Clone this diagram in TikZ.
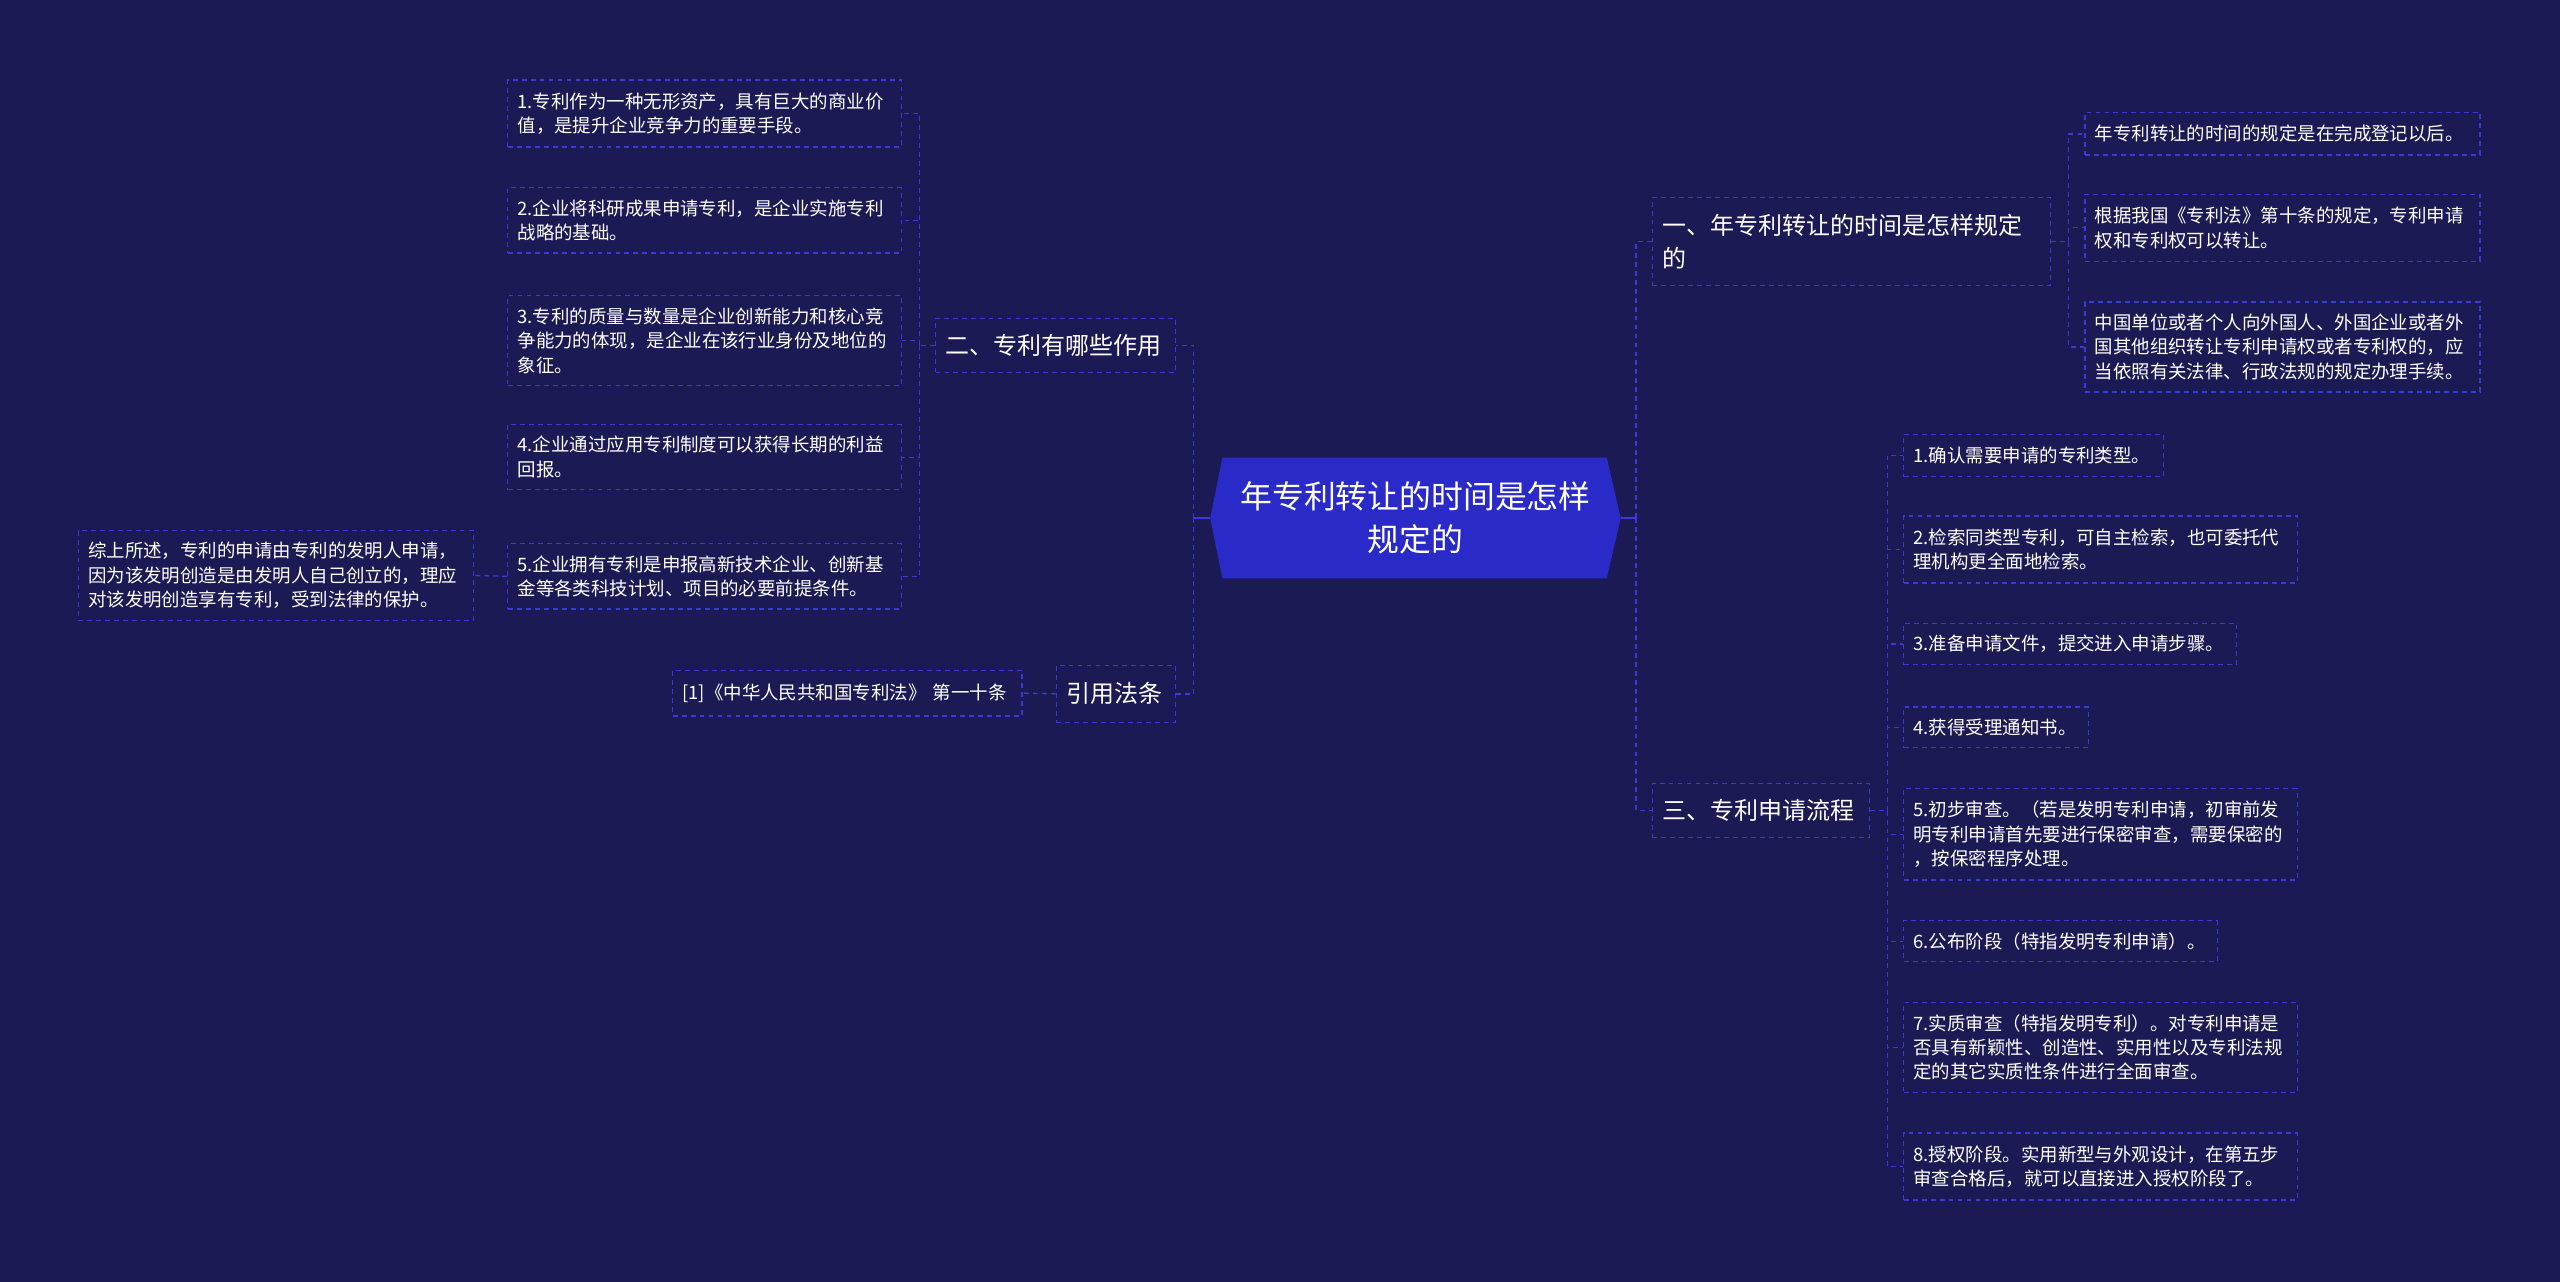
\documentclass[tikz,border=0pt]{standalone}
\usepackage{fontspec}
\setmainfont{Noto Sans CJK SC}
\definecolor{bg}{RGB}{27,26,84}
\definecolor{lineblue}{RGB}{58,58,214}
\definecolor{rootfill}{RGB}{42,42,200}
\tikzset{
  leaf/.style={draw=lineblue, line width=0.8pt, dash pattern=on 3pt off 2.5pt, text=white,
    font=\fontsize{11.3}{15}\selectfont, align=left, inner xsep=6pt, inner ysep=0pt},
  branch/.style={leaf, font=\fontsize{14.7}{20}\selectfont},
  conn/.style={draw=lineblue, line width=0.8pt, dash pattern=on 3pt off 2.5pt},
  solidconn/.style={draw=lineblue, line width=1pt},
}
\begin{document}
\begin{tikzpicture}[x=1pt,y=-1pt]
\useasboundingbox (0,0) rectangle (1568,785.2);
\fill[bg] (0,0) rectangle (1568,785.2);

% root
\node[minimum width=251pt, minimum height=73.5pt, inner sep=0pt] (root) at (866.95,317.3) {};
\fill[rootfill] (root.west) -- ([xshift=7.5pt]root.north west) -- ([xshift=-8.5pt]root.north east)
  -- (root.east) -- ([xshift=-8.5pt]root.south east) -- ([xshift=7.5pt]root.south west) -- cycle;
\node[text=white, align=center, font=\fontsize{19.5}{26}\selectfont] (roottext) at (root.center) {年专利转让的时间是怎样\\规定的};

% left branches
\node[branch, minimum width=147pt, minimum height=33pt, text width=135pt] (B2) at (646.5,211.5) {二、专利有哪些作用};
\node[branch, minimum width=73pt, minimum height=35pt, text width=61pt] (B4) at (683.5,425) {引用法条};

\node[leaf, minimum width=241pt, minimum height=41pt, text width=229pt] (L1) at (431.5,69.5) {1.专利作为一种无形资产，具有巨大的商业价\\值，是提升企业竞争力的重要手段。};
\node[leaf, minimum width=241pt, minimum height=40pt, text width=229pt] (L2) at (431.5,135) {2.企业将科研成果申请专利，是企业实施专利\\战略的基础。};
\node[leaf, minimum width=241pt, minimum height=55pt, text width=229pt] (L3) at (431.5,208.5) {3.专利的质量与数量是企业创新能力和核心竞\\争能力的体现，是企业在该行业身份及地位的\\象征。};
\node[leaf, minimum width=241pt, minimum height=40pt, text width=229pt] (L4) at (431.5,280) {4.企业通过应用专利制度可以获得长期的利益\\回报。};
\node[leaf, minimum width=241pt, minimum height=40pt, text width=229pt] (L5) at (431.5,353) {5.企业拥有专利是申报高新技术企业、创新基\\金等各类科技计划、项目的必要前提条件。};
\node[leaf, minimum width=242pt, minimum height=55pt, text width=230pt] (S) at (169,352.5) {综上所述，专利的申请由专利的发明人申请，\\因为该发明创造是由发明人自己创立的，理应\\对该发明创造享有专利，受到法律的保护。};
\node[leaf, minimum width=214pt, minimum height=28pt, text width=202pt] (Law) at (519,424.5) {[1]《中华人民共和国专利法》 第一十条};

% right branches
\node[branch, minimum width=244pt, minimum height=54pt, text width=232pt] (R1) at (1134,148) {一、年专利转让的时间是怎样规定\\的};
\node[branch, minimum width=133pt, minimum height=33pt, text width=121pt] (R3) at (1078.5,496.5) {三、专利申请流程};

\node[leaf, minimum width=242pt, minimum height=26pt, text width=230pt] (Ra) at (1398,82) {年专利转让的时间的规定是在完成登记以后。};
\node[leaf, minimum width=242pt, minimum height=41pt, text width=230pt] (Rb) at (1398,139.5) {根据我国《专利法》第十条的规定，专利申请\\权和专利权可以转让。};
\node[leaf, minimum width=242pt, minimum height=55pt, text width=230pt] (Rc) at (1398,212.5) {中国单位或者个人向外国人、外国企业或者外\\国其他组织转让专利申请权或者专利权的，应\\当依照有关法律、行政法规的规定办理手续。};

\node[leaf, minimum width=159pt, minimum height=26pt, text width=147pt] (P1) at (1245.5,279) {1.确认需要申请的专利类型。};
\node[leaf, minimum width=241pt, minimum height=41pt, text width=229pt] (P2) at (1286.5,336.5) {2.检索同类型专利，可自主检索，也可委托代\\理机构更全面地检索。};
\node[leaf, minimum width=204pt, minimum height=25pt, text width=192pt] (P3) at (1268,394.5) {3.准备申请文件，提交进入申请步骤。};
\node[leaf, minimum width=113pt, minimum height=25pt, text width=101pt] (P4) at (1222.5,445.5) {4.获得受理通知书。};
\node[leaf, minimum width=241pt, minimum height=56pt, text width=229pt] (P5) at (1286.5,511) {5.初步审查。（若是发明专利申请，初审前发\\明专利申请首先要进行保密审查，需要保密的\\，按保密程序处理。};
\node[leaf, minimum width=192pt, minimum height=25pt, text width=180pt] (P6) at (1262,576.5) {6.公布阶段（特指发明专利申请）。};
\node[leaf, minimum width=241pt, minimum height=55pt, text width=229pt] (P7) at (1286.5,641.5) {7.实质审查（特指发明专利）。对专利申请是\\否具有新颖性、创造性、实用性以及专利法规\\定的其它实质性条件进行全面审查。};
\node[leaf, minimum width=241pt, minimum height=41pt, text width=229pt] (P8) at (1286.5,714.5) {8.授权阶段。实用新型与外观设计，在第五步\\审查合格后，就可以直接进入授权阶段了。};

% connectors: root to left
\coordinate (spL) at (731,317.3);
\draw[solidconn] (root.west) -- (spL);
\draw[conn] (spL) |- (B2.east);
\draw[conn] (spL) |- (B4.east);
\coordinate (sp2) at (563,211.5);
\draw[conn] (B2.west) -- (sp2);
\foreach \n in {L1,L2,L3,L4,L5} \draw[conn] (sp2) |- (\n.east);
\draw[conn] (L5.west) -- (S.east);
\draw[conn] (B4.west) -- (Law.east);

% connectors: root to right
\coordinate (spR) at (1002,317.3);
\draw[solidconn] (root.east) -- (spR);
\draw[conn] (spR) |- (R1.west);
\draw[conn] (spR) |- (R3.west);
\coordinate (sp1) at (1267,148);
\draw[conn] (R1.east) -- (sp1);
\foreach \n in {Ra,Rb,Rc} \draw[conn] (sp1) |- (\n.west);
\coordinate (sp3) at (1156,496.5);
\draw[conn] (R3.east) -- (sp3);
\foreach \n in {P1,P2,P3,P4,P5,P6,P7,P8} \draw[conn] (sp3) |- (\n.west);
\end{tikzpicture}
\end{document}
